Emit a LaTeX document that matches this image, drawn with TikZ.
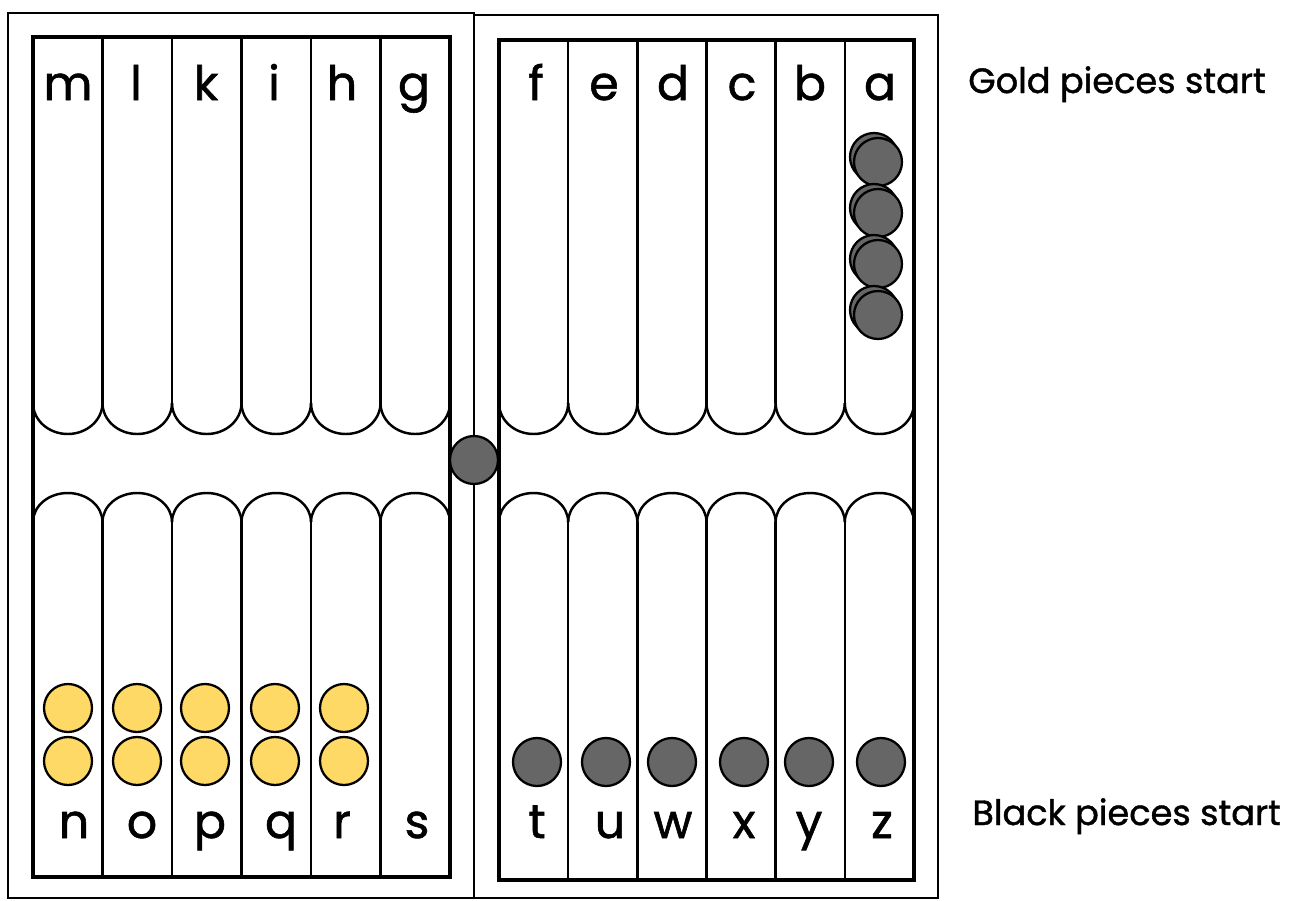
\documentclass[tikz,border=0pt]{standalone}
\usepackage{fontspec}
\setmainfont{Poppins}
\newfontfamily\boardfont[FakeBold=1.2]{Poppins}
\usepackage{xcolor}
\usetikzlibrary{positioning}

\definecolor{goldpiece}{HTML}{FFD966}
\definecolor{blackpiece}{HTML}{666666}

\begin{document}
\begin{tikzpicture}[
    x=0.02cm, y=-0.02cm,
    frame/.style={draw, line width=1.6pt},
    board/.style={draw, line width=2.6pt},
    point/.style={draw, line width=1.4pt},
    letter/.style={anchor=base, inner sep=0pt, font=\boardfont\fontsize{27}{30}\selectfont},
    note/.style={anchor=base west, inner sep=0pt, font=\boardfont\fontsize{20}{24}\selectfont},
    gold/.style={circle, draw, line width=1.3pt, fill=goldpiece, minimum size=0.96cm, inner sep=0pt},
    black/.style={circle, draw, line width=1.3pt, fill=blackpiece, minimum size=0.96cm, inner sep=0pt}
]
    \useasboundingbox (0,0) rectangle (1306,900);

    % Outer frames
    \draw[frame] (8,13) rectangle (474,898);
    \draw[frame] (474,15) rectangle (938,898);

    % Points, left board then right board
    \foreach \xa/\xb/\ya/\yb in {33/450/37/877, 499/914/40/880} {
        \pgfmathsetmacro{\w}{(\xb-\xa)/6}
        \foreach \i in {1,...,5}
            \draw[point] ({\xa+\i*\w},\ya) -- ({\xa+\i*\w},403)
                         ({\xa+\i*\w},522) -- ({\xa+\i*\w},\yb);
        \foreach \i in {0,...,5} {
            \draw[point] ({\xa+\i*\w},403) arc[start angle=180, end angle=0, x radius=\w/2, y radius=31];
            \draw[point] ({\xa+\i*\w},522) arc[start angle=180, end angle=360, x radius=\w/2, y radius=29];
        }
        \draw[board] (\xa,\ya) rectangle (\xb,\yb);
    }

    % Point letters
    \foreach \x/\c in {68/m, 136/l, 206/k, 274/i, 342/h, 414/g,
                       536/f, 604/e, 673/d, 742/c, 810/b, 880/a}
        \node[letter] (top-\c) at (\x,100) {\c};
    \foreach \x/\c in {74/n, 142/o, 210/p, 281/q, 342/r, 417/s,
                       537/t, 610/u, 673/w, 744/x, 809/y, 882/z}
        \node[letter] (bot-\c) at (\x,838) {\c};

    % Gold pieces
    \foreach \x [count=\n] in {68,137,205,275,344} {
        \node[gold] (gold-\n-a) at (\x,708) {};
        \node[gold] (gold-\n-b) at (\x,761) {};
    }

    % Black pieces
    \foreach \x [count=\n] in {537,606,672,744,809,881}
        \node[black] (black-\n) at (\x,762) {};
    \foreach \y [count=\n] in {162,213,264,315} {
        \node[black] (stack-\n-back) at (874,\y-5) {};
        \node[black] (stack-\n) at (878,\y) {};
    }

    % Bar piece
    \node[black] (bar) at (474,460) {};

    % Notes
    \node[note] (goldstart) at (968,93) {Gold pieces start};
    \node[note] (blackstart) at (972,825) {Black pieces start};
\end{tikzpicture}
\end{document}
